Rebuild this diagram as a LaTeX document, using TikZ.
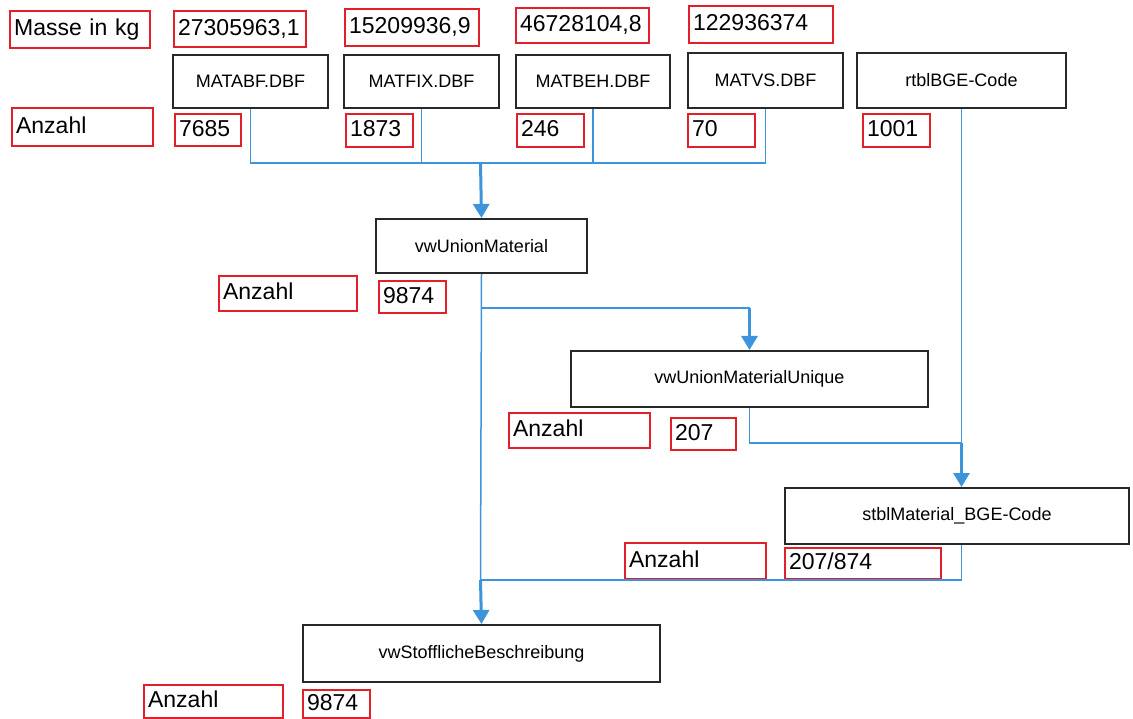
\documentclass[tikz,border=0pt]{standalone}
\usepackage{fontspec}
\setmainfont{Liberation Sans}
\usetikzlibrary{arrows.meta}
\definecolor{boxred}{RGB}{226,32,44}
\definecolor{flowblue}{RGB}{62,148,218}
\definecolor{boxline}{RGB}{40,40,40}
\newcommand\redlabel[6]{%
  \pgfmathsetmacro\rw{#4-#2-8}\pgfmathsetmacro\rh{#5-#3}%
  \node[redbox, text width=\rw pt, minimum height=\rh pt] (#1) at (#2,#3) {#6};}
\newcommand\dbbox[6]{%
  \pgfmathsetmacro\bw{#4-#2}\pgfmathsetmacro\bh{#5-#3}%
  \node[tablebox, minimum width=\bw pt, minimum height=\bh pt] (#1) at (#2,#3) {#6};}
\begin{document}
\begin{tikzpicture}[x=1pt,y=-1pt,
  redbox/.style={draw=boxred, line width=2.2pt, anchor=north west, inner xsep=4pt, inner ysep=0pt,
    align=left, text height=17pt, text depth=5pt, font=\fontsize{23}{26}\selectfont},
  tablebox/.style={draw=boxline, line width=2pt, anchor=north west, inner sep=0pt,
    font=\fontsize{18}{20}\selectfont},
  link/.style={draw=flowblue, line width=1.5pt},
  flow/.style={draw=flowblue, line width=3pt, -{Triangle[width=16pt,length=14pt]}}]
\useasboundingbox (0,0) rectangle (1133,719);
% red labels
\redlabel{mass}{9}{10}{149}{47}{Masse in kg}
\redlabel{m1}{173}{10}{305}{46}{27305963,1}
\redlabel{m2}{344}{8}{478}{45}{15209936,9}
\redlabel{m3}{515}{7}{648}{42}{46728104,8}
\redlabel{m4}{688}{5}{832}{42}{122936374}
\redlabel{anz0}{11}{107}{152}{145}{Anzahl}
\redlabel{a1}{174}{113}{240}{145}{7685}
\redlabel{a2}{345}{113}{412}{146}{1873}
\redlabel{a3}{516}{113}{583}{146}{246}
\redlabel{a4}{687}{113}{754}{146}{70}
\redlabel{a5}{862}{113}{929}{146}{1001}
\redlabel{anz1}{218}{275}{356}{310}{Anzahl}
\redlabel{c1}{378}{280}{445}{312}{9874}
\redlabel{anz2}{508}{412}{649}{447}{Anzahl}
\redlabel{c2}{670}{417}{735}{449}{207}
\redlabel{anz3}{624}{542}{765}{578}{Anzahl}
\redlabel{c3}{784}{547}{940}{578}{207/874}
\redlabel{anz4}{143}{684}{282}{717}{Anzahl}
\redlabel{c4}{302}{689}{369}{717}{9874}
% table boxes
\dbbox{matabf}{172}{54}{327}{107}{MATABF.DBF}
\dbbox{matfix}{343}{54}{498}{107}{MATFIX.DBF}
\dbbox{matbeh}{515}{54}{669}{107}{MATBEH.DBF}
\dbbox{matvs}{687}{52}{842}{107}{MATVS.DBF}
\dbbox{rtbl}{856}{52}{1065}{107}{rtblBGE-Code}
\dbbox{vwum}{375}{218}{586}{272}{vwUnionMaterial}
\dbbox{vwumu}{570}{350}{927}{406}{vwUnionMaterialUnique}
\dbbox{stbl}{784}{487}{1128}{543}{stblMaterial\_BGE-Code}
\dbbox{vwsb}{302}{624}{659}{681}{vwStofflicheBeschreibung}
% junctions
\coordinate (jtop) at (480.5,163);
\coordinate (jmid) at (480.5,308);
\coordinate (jbot) at (480.5,580);
\coordinate (jumu) at (vwumu.north |- jmid);
\coordinate (jst) at (rtbl.south |- 0,443);
% connectors
\draw[link] (matabf.south) |- (matvs.south |- jtop) -- (matvs.south);
\draw[link] (matfix.south) -- (matfix.south |- jtop);
\draw[link] (matbeh.south) -- (matbeh.south |- jtop);
\draw[flow] (jtop) -- (vwum.north);
\draw[link] (vwum.south) -- (jbot);
\draw[link] (jmid) -- (jumu);
\draw[flow] (jumu) -- (vwumu.north);
\draw[link] (vwumu.south) |- (jst);
\draw[link] (rtbl.south) -- (jst);
\draw[flow] (jst) -- (jst |- stbl.north);
\draw[link] (jst |- stbl.south) |- (jbot);
\draw[flow] (jbot) -- (vwsb.north);
\end{tikzpicture}
\end{document}
